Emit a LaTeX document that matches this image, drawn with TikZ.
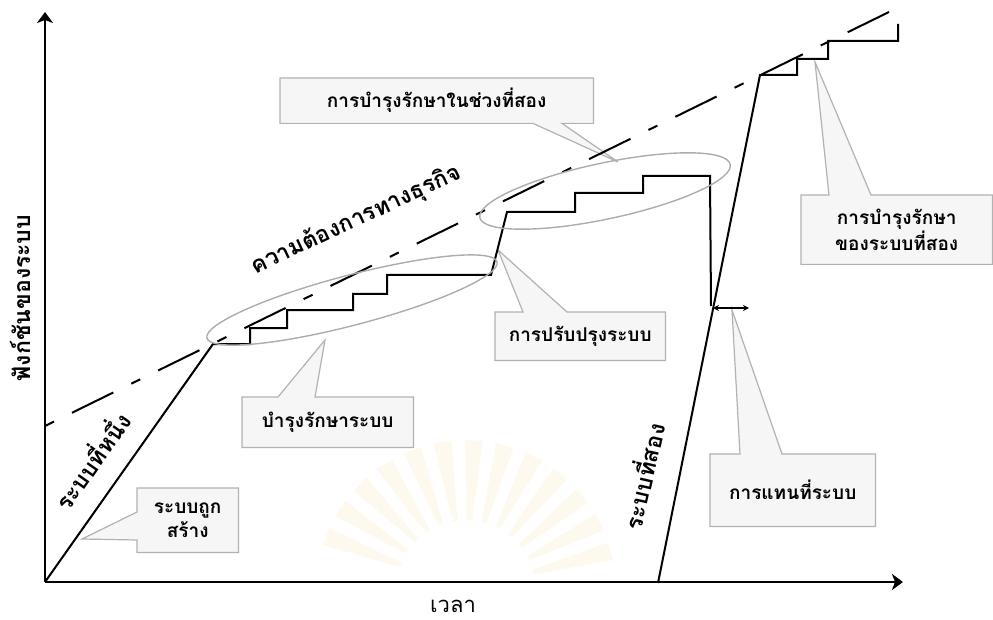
\documentclass[tikz,border=0pt]{standalone}
\usepackage{fontspec}
\newfontfamily\thai[Script=Thai]{Loma}
\usetikzlibrary{backgrounds,arrows.meta,calc}

\definecolor{seal}{RGB}{253,249,238}

\tikzset{
  axis/.style={line width=2.2pt, -{Stealth[length=11pt,width=16pt,inset=3pt]}},
  curve/.style={line width=2pt, line join=miter},
  need/.style={line width=2pt, dash pattern=on 46pt off 20pt on 10pt off 20pt},
  ring/.style={draw=gray!65, line width=1.4pt},
  callshape/.style={draw=gray!60, fill=gray!7, line width=1.2pt, line join=miter},
  calltext/.style={inner sep=0pt, anchor=north west, align=center,
    font=\thai\bfseries\fontsize{19}{24}\selectfont},
  lbl/.style={inner sep=0pt, font=\thai\bfseries\fontsize{23}{26}\selectfont},
}

\begin{document}
\begin{tikzpicture}[x=1pt, y=-1pt]
\useasboundingbox (0,0) rectangle (993,620);

% faint seal behind the chart
\foreach \a in {15,27,...,165}
  \fill[seal, shift={(466,590)}] (-\a+2:70) -- (-\a+3.5:150) -- (-\a-3.5:150) -- (-\a-2:70) -- cycle;

% axes
\coordinate (O) at (45,582);
\coordinate (ytop) at (45,12);
\coordinate (xend) at (903,582);
\draw[axis] (O) -- (ytop);
\draw[axis] (O) -- (xend);
\node[lbl, rotate=90] (ylab) at (20,298) {ฟังก์ชันของระบบ};
\node[inner sep=0pt, font=\thai\fontsize{22}{24}\selectfont] (xlab) at (453,606) {เวลา};

% business need line
\coordinate (n1) at (889,12);
\coordinate (n0) at (45,426);
\draw[need] (n1) -- (n0);
\node[lbl, rotate=25] (needlab) at (356,220) {ความต้องการทางธุรกิจ};

% first system with its maintenance steps and upgrade
\coordinate (s1top) at (213,344);
\coordinate (drop) at (711,306);
\draw[curve] (O) -- (s1top) -- (250,344) -- (250,328) -- (287,328) -- (287,310)
  -- (353,310) -- (353,294) -- (387,294) -- (387,275) -- (491,275)
  -- (507,212) -- (575,212) -- (575,193) -- (643,193) -- (643,176)
  -- (710,176) -- (drop);
\node[lbl, rotate=55] (s1lab) at (91,460) {ระบบที่หนึ่ง};

% second system
\coordinate (s2bot) at (658,583);
\coordinate (s2top) at (760,75);
\draw[curve] (s2bot) -- (s2top) -- (797,75) -- (797,59) -- (828,59) -- (828,41)
  -- (898,41) -- (898,24);
\node[lbl, rotate=77] (s2lab) at (642,476) {ระบบที่สอง};

% replacement gap
\coordinate (rep) at (749,308);
\draw[line width=1.2pt, {Stealth[length=6pt,width=6pt]}-{Stealth[length=6pt,width=6pt]}] (713,308) -- (rep);

% maintenance groups
\draw[ring, rotate around={14.7:(352,300)}] (352,300) ellipse [x radius=150, y radius=25];
\draw[ring, rotate around={12:(605,191)}] (605,191) ellipse [x radius=128, y radius=28];

% callouts
\coordinate (tA) at (618,162);
\coordinate (tB) at (498,250);
\coordinate (tC) at (325,340);
\coordinate (tD) at (82,539);
\coordinate (tE) at (815,62);
\coordinate (tF) at (732,310);

\node[calltext, minimum width=313pt, minimum height=45pt] (cA) at (280,78) {การบำรุงรักษาในช่วงที่สอง};
\node[calltext, minimum width=170pt, minimum height=48pt] (cB) at (495,312) {การปรับปรุงระบบ};
\node[calltext, minimum width=171pt, minimum height=50pt] (cC) at (242,397) {บำรุงรักษาระบบ};
\node[calltext, minimum width=101pt, minimum height=64pt] (cD) at (137,488) {ระบบถูก\\สร้าง};
\node[calltext, minimum width=191pt, minimum height=69pt] (cE) at (801,195) {การบำรุงรักษา\\ของระบบที่สอง};
\node[calltext, minimum width=165pt, minimum height=72pt] (cF) at (710,454) {การแทนที่ระบบ};

\begin{scope}[on background layer]
  \draw[callshape] (cA.north west) -- (cA.north east) -- (cA.south east)
    -- ([xshift=282pt]cA.south west) -- (tA) -- ([xshift=253pt]cA.south west)
    -- (cA.south west) -- cycle;
  \draw[callshape] (cB.south west) -- (cB.north west) -- ([xshift=28pt]cB.north west)
    -- (tB) -- ([xshift=72pt]cB.north west) -- (cB.north east) -- (cB.south east) -- cycle;
  \draw[callshape] (cC.south west) -- (cC.north west) -- ([xshift=36pt]cC.north west)
    -- (tC) -- ([xshift=73pt]cC.north west) -- (cC.north east) -- (cC.south east) -- cycle;
  \draw[callshape] (cD.north west) -- (cD.north east) -- (cD.south east) -- (cD.south west)
    -- ([yshift=-52pt]cD.north west) -- (tD) -- ([yshift=-24pt]cD.north west) -- cycle;
  \draw[callshape] (cE.south west) -- (cE.north west) -- ([xshift=28pt]cE.north west)
    -- (tE) -- ([xshift=70pt]cE.north west) -- (cE.north east) -- (cE.south east) -- cycle;
  \draw[callshape] (cF.south west) -- (cF.north west) -- ([xshift=30pt]cF.north west)
    -- (tF) -- ([xshift=72pt]cF.north west) -- (cF.north east) -- (cF.south east) -- cycle;
\end{scope}
\end{tikzpicture}
\end{document}
